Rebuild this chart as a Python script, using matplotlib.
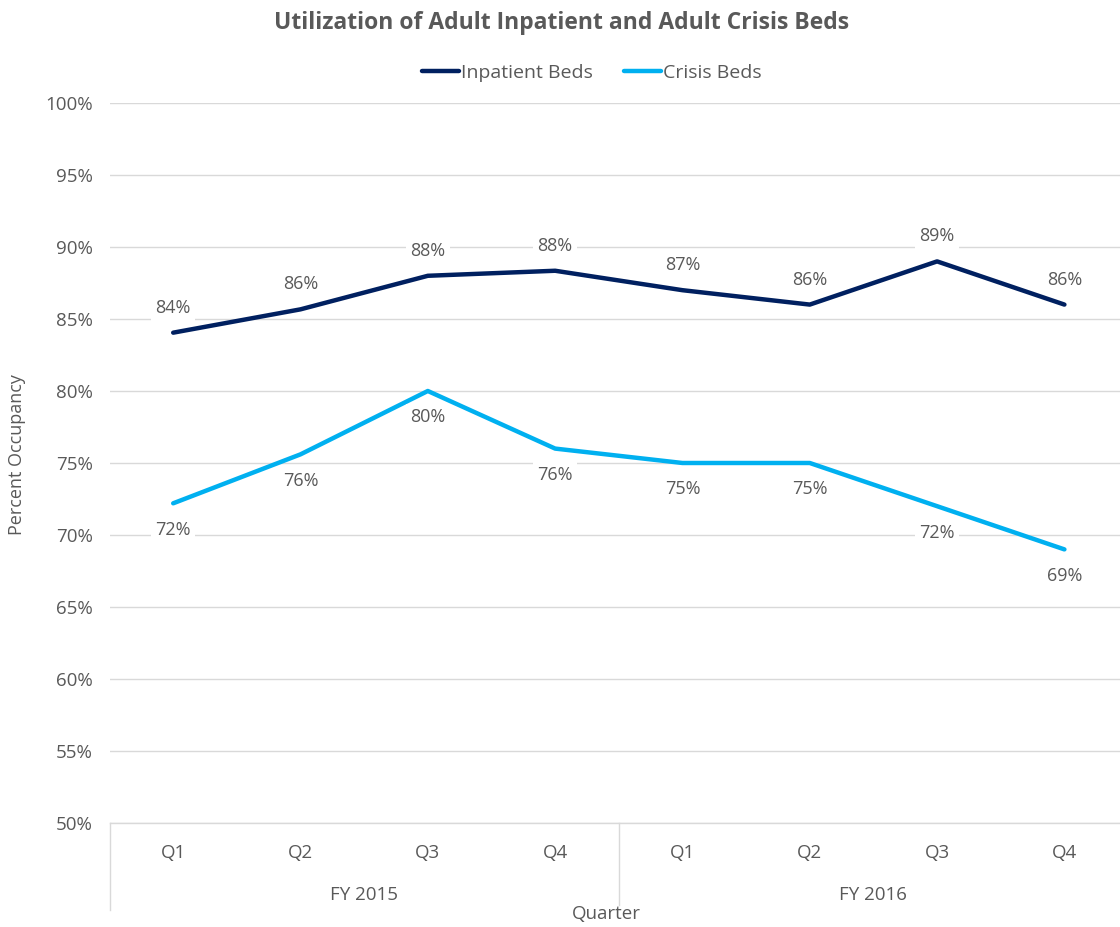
import matplotlib
matplotlib.use("Agg")
import matplotlib.pyplot as plt
import matplotlib.transforms as mtransforms
from matplotlib.ticker import FuncFormatter

plt.rcParams["font.family"] = ["Open Sans", "DejaVu Sans"]

# ── data ──────────────────────────────────────────────────────────────────────
QUARTERS = ["Q1", "Q2", "Q3", "Q4", "Q1", "Q2", "Q3", "Q4"]
YEARS = ["FY 2015", "FY 2016"]
INPATIENT = [84.05, 85.67, 88.0, 88.35, 87.0, 86.0, 89.0, 86.0]
CRISIS = [72.2, 75.6, 80.0, 76.0, 75.0, 75.0, 72.0, 69.0]

NAVY = "#002060"
CYAN = "#00B0F0"
TEXT = "#595959"
GRID = "#d9d9d9"

fig = plt.figure(figsize=(11.2, 9.27), dpi=100)
ax = fig.add_axes([0.0978, 0.1122, 0.9094, 0.7767])

x = list(range(len(QUARTERS)))
ax.plot(x, INPATIENT, color=NAVY, lw=3.2, solid_capstyle="round",
        solid_joinstyle="round", label="Inpatient Beds", zorder=3)
ax.plot(x, CRISIS, color=CYAN, lw=3.2, solid_capstyle="round",
        solid_joinstyle="round", label="Crisis Beds", zorder=3)

# value labels with white boxes so grid lines break behind them
box = dict(boxstyle="square,pad=0.25", fc="white", ec="none")
for xi, v in zip(x, INPATIENT):
    ax.annotate(f"{v:.0f}%", (xi, v), xytext=(0, 18), textcoords="offset points",
                ha="center", va="center", fontsize=13, color=TEXT, bbox=box, zorder=4)
for xi, v in zip(x, CRISIS):
    ax.annotate(f"{v:.0f}%", (xi, v), xytext=(0, -19), textcoords="offset points",
                ha="center", va="center", fontsize=13, color=TEXT, bbox=box, zorder=4)

ax.set_xlim(-0.5, len(QUARTERS) - 0.5)
ax.set_ylim(50, 100)
ax.set_yticks(range(50, 101, 5))
ax.yaxis.set_major_formatter(FuncFormatter(lambda v, _: f"{v:.0f}%"))
ax.tick_params(axis="y", length=0, pad=12, labelsize=13.5, labelcolor=TEXT)
ax.grid(axis="y", color=GRID, lw=1)
ax.set_axisbelow(True)
for s in ["top", "right", "left"]:
    ax.spines[s].set_visible(False)
ax.spines["bottom"].set_color(GRID)
ax.spines["bottom"].set_linewidth(1)

# two-level category axis
ax.set_xticks([])
trans = mtransforms.blended_transform_factory(ax.transData, ax.transAxes)
px = 1.0 / (0.7767 * 927)  # one pixel in axes-height units
for xi, q in zip(x, QUARTERS):
    ax.text(xi, -30 * px, q, transform=trans, ha="center", va="center",
            fontsize=13.5, color=TEXT)
for i, yr in enumerate(YEARS):
    ax.text(i * 4 + 1.5, -72 * px, yr, transform=trans, ha="center", va="center",
            fontsize=13.5, color=TEXT)
for xs, depth in [(-0.5, 87), (3.5, 82), (7.5, 82)]:
    ax.plot([xs, xs], [0, -depth * px], transform=trans, color=GRID, lw=1,
            clip_on=False)

fig.text(606 / 1120, 1 - 914 / 927, "Quarter", ha="center", va="center",
         fontsize=13.5, color=TEXT)
fig.text(17 / 1120, 1 - 455 / 927, "Percent Occupancy", ha="center", va="center",
         rotation=90, fontsize=13, color=TEXT)
fig.text(562 / 1120, 1 - 23 / 927, "Utilization of Adult Inpatient and Adult Crisis Beds",
         ha="center", va="center", fontsize=16.5, fontweight="bold", color=TEXT)

fig.legend(loc="center", bbox_to_anchor=(592 / 1120, 1 - 73 / 927), ncol=2,
           frameon=False, fontsize=14, handlelength=1.9, handletextpad=0.1,
           columnspacing=1.6, labelcolor=TEXT)

fig.savefig("out.png", dpi=100, facecolor="white")
